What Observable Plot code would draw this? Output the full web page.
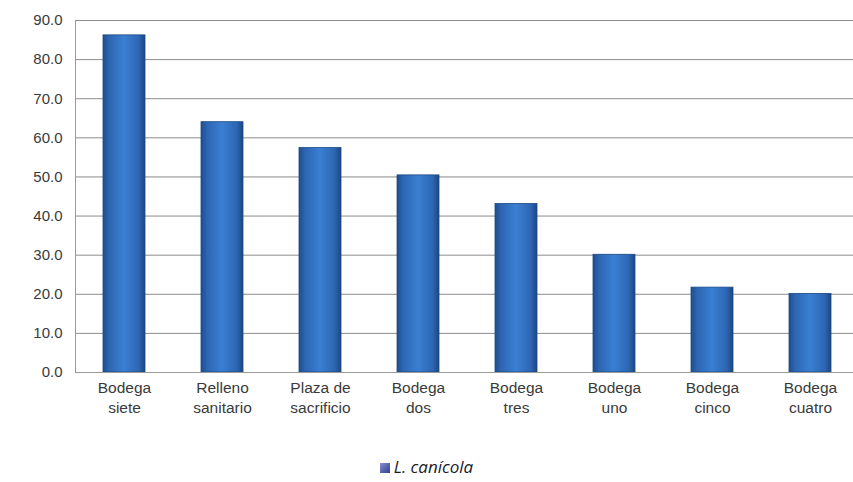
<!DOCTYPE html>
<html><head><meta charset="utf-8">
<script src="https://cdn.jsdelivr.net/npm/d3@7"></script>
<script src="https://cdn.jsdelivr.net/npm/@observablehq/plot@0.6"></script>
<style>
body{margin:0;background:#fff;font-family:"Liberation Sans",Arial,sans-serif;}
#legend{position:absolute;left:0;top:455px;width:853px;text-align:center;font-family:"Open Sans",sans-serif;font-style:italic;font-size:17px;color:#1a1a2a;}
#legend span.sw{display:inline-block;width:10px;height:10px;background:linear-gradient(135deg,#8a8fd0,#2b3f8f);margin-right:4px;vertical-align:0px;}
</style></head>
<body>
<div id="chart"></div>
<div id="legend"><span class="sw"></span>L. canícola</div>
<script>
const categories = ["Bodega siete","Relleno sanitario","Plaza de sacrificio","Bodega dos","Bodega tres","Bodega uno","Bodega cinco","Bodega cuatro"];
const tickLabels = ["Bodega\nsiete","Relleno\nsanitario","Plaza de\nsacrificio","Bodega\ndos","Bodega\ntres","Bodega\nuno","Bodega\ncinco","Bodega\ncuatro"];
const values = [86.2, 64.0, 57.4, 50.4, 43.1, 30.1, 21.7, 20.1];
const yTicks = [0,10,20,30,40,50,60,70,80,90];
const seriesName = "L. canícola";

const data = categories.map((c,i)=>({cat:c, value:values[i]}));
const labelOf = new Map(categories.map((c,i)=>[c,tickLabels[i]]));

const plot = Plot.plot({
  width: 853,
  height: 440,
  marginLeft: 75,
  marginRight: 0,
  marginTop: 20,
  marginBottom: 68,
  style: {fontFamily: '"Liberation Sans", Arial, sans-serif', color: "#3a3a3a", background: "#fff"},
  x: {domain: categories, range: [75, 859], paddingInner: 0.57, paddingOuter: 0.285, align: 0.5, label: null},
  y: {domain: [0, 90], label: null},
  marks: [
    Plot.ruleY(yTicks.filter(d=>d>0), {stroke: "#8c8c8c", strokeWidth: 1}),
    Plot.barY(data, {x: "cat", y: "value", fill: "url(#barGrad)", stroke: "#1d4a86", strokeWidth: 0.8}),
    Plot.ruleY([0], {stroke: "#9a9a9a"}),
    Plot.frame({anchor: "left", stroke: "#9a9a9a"}),
    Plot.axisY({ticks: yTicks, tickFormat: d3.format(".1f"), tickSize: 0, tickPadding: 13, fontSize: 15, fill: "#3a3a3a"}),
    Plot.axisX({tickSize: 0, tickPadding: 6, fontSize: 15.5, lineHeight: 1.3, tickFormat: d => labelOf.get(d), fill: "#3a3a3a"})
  ]
});
const ns = "http://www.w3.org/2000/svg";
const defs = document.createElementNS(ns, "defs");
defs.innerHTML = `<linearGradient id="barGrad" x1="0" x2="1" y1="0" y2="0">
  <stop offset="0" stop-color="#1f4e8c"/>
  <stop offset="0.15" stop-color="#2d66b3"/>
  <stop offset="0.5" stop-color="#3a7fd2"/>
  <stop offset="0.85" stop-color="#2d66b3"/>
  <stop offset="1" stop-color="#1c4680"/>
</linearGradient>`;
plot.insertBefore(defs, plot.firstChild);
document.getElementById("chart").appendChild(plot);
</script>
</body></html>
